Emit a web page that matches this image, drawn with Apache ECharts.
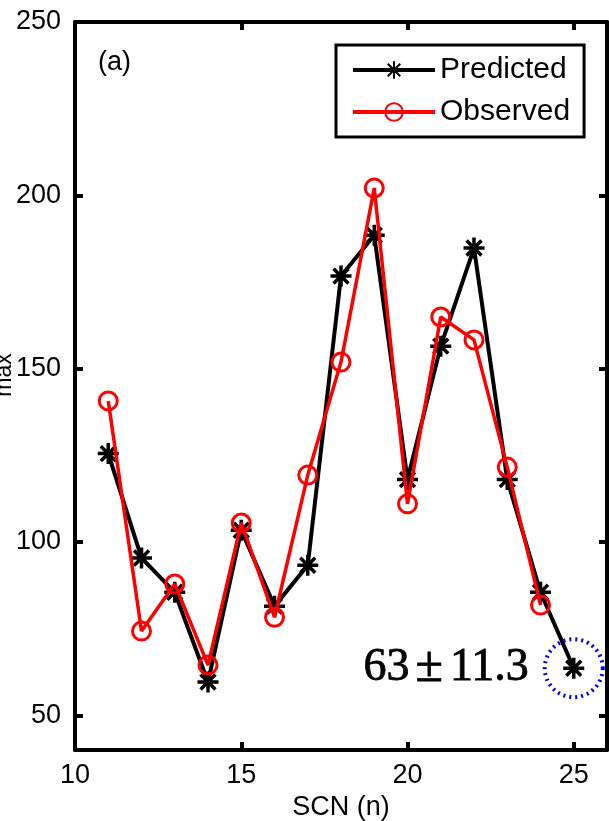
<!DOCTYPE html>
<html>
<head>
<meta charset="utf-8">
<script src="https://cdn.jsdelivr.net/npm/echarts@6/dist/echarts.min.js"></script>
<style>html,body{margin:0;padding:0;background:#fff}#c{width:609px;height:821px}</style>
</head>
<body>
<div id="c"></div>
<script>
var scn = [11,12,13,14,15,16,17,18,19,20,21,22,23,24,25];
var predicted = [125.5,95.4,85.5,59.6,103.4,81.5,93.3,176.7,188.5,118,156.5,184.8,118,85.5,63.6];
var observed = [140.7,74.3,87.9,64.5,105.5,78.3,119.3,151.9,202.1,111,164.9,158.3,121.6,81.8];
var xTicks = [10,15,20,25];
var yTicks = [50,100,150,200,250];
var highlight = {x:25, y:63.6, mean:'63', pm:'\u00b1', sd:'11.3'};

var star = 'path://M0,-10L0,10M-10,0L10,0M-7.1,-7.1L7.1,7.1M-7.1,7.1L7.1,-7.1';
var font = 'Liberation Sans';

function pairs(xs, ys){ return ys.map(function(v,i){return [xs[i], v];}); }

function tick(vals){ return {show:true, inside:true, length:8, customValues:vals, lineStyle:{color:'#000', width:4}}; }
var axisLine = {show:true, onZero:false, lineStyle:{color:'#000', width:4}};

var chart = echarts.init(document.getElementById('c'), null, {renderer:'canvas'});
chart.setOption({
  animation:false,
  backgroundColor:'#fff',
  grid:{left:75, right:2, top:22, bottom:71, containLabel:false, outerBoundsMode:'none'},
  xAxis:[
    {type:'value', min:10, max:26, position:'bottom',
      name:'SCN (n)', nameLocation:'middle', nameGap:43,
      nameTextStyle:{fontFamily:font, fontSize:27, color:'#000'},
      axisLabel:{customValues:xTicks, fontFamily:font, fontSize:27, color:'#000', margin:12},
      axisLine:axisLine, axisTick:tick(xTicks), splitLine:{show:false}},
    {type:'value', min:10, max:26, position:'top', axisLabel:{show:false},
      axisLine:axisLine, axisTick:tick(xTicks), splitLine:{show:false}}
  ],
  yAxis:[
    {type:'value', min:40, max:250, position:'left',
      axisLabel:{customValues:yTicks, fontFamily:font, fontSize:27, color:'#000', margin:14},
      axisLine:axisLine, axisTick:tick(yTicks), splitLine:{show:false}},
    {type:'value', min:40, max:250, position:'right', axisLabel:{show:false},
      axisLine:axisLine, axisTick:tick(yTicks), splitLine:{show:false}}
  ],
  legend:{
    left:336, top:45, orient:'vertical',
    backgroundColor:'#fff', borderColor:'#000', borderWidth:3,
    padding:[10,14,10,15], itemGap:12, itemWidth:82, itemHeight:22,
    textStyle:{fontFamily:font, fontSize:30, color:'#000'},
    lineStyle:{width:4},
    data:['Predicted','Observed']
  },
  graphic:[
    {type:'text', left:98, top:49, style:{text:'(a)', font:'27px "Liberation Sans"', fill:'#000'}},
    {type:'text', x:5, y:375, rotation:Math.PI/2, style:{text:'max', font:'23px "Liberation Sans"', fill:'#000', align:'center', verticalAlign:'middle'}}
  ],
  series:[
    {name:'Predicted', type:'line', data:pairs(scn, predicted),
      symbol:star, symbolSize:21, showAllSymbol:true,
      lineStyle:{color:'#000', width:4},
      itemStyle:{color:'#000', borderColor:'#000', borderWidth:3.5}, z:2},
    {name:'Observed', type:'line', data:pairs(scn, observed),
      symbol:'circle', symbolSize:18, showAllSymbol:true,
      lineStyle:{color:'#ff0000', width:3.5},
      itemStyle:{color:'rgba(255,255,255,0)', borderColor:'#ff0000', borderWidth:3}, z:3},
    {name:'highlight', type:'scatter', data:[[highlight.x, highlight.y]],
      symbol:'circle', symbolSize:58, silent:true,
      itemStyle:{color:'rgba(0,0,0,0)', borderColor:'#0000ee', borderWidth:4, borderType:[2,4], opacity:1},
      label:{show:true, position:'left', distance:14, color:'#000', opacity:1,
        textBorderWidth:0,
        formatter:'{a|' + highlight.mean + '}{b|' + highlight.pm + '}{a|' + highlight.sd + '}',
        rich:{
          a:{fontFamily:'Liberation Serif', fontSize:46, color:'#000', textBorderColor:'#000', textBorderWidth:0.8},
          b:{fontFamily:'Liberation Serif', fontSize:50, color:'#000', textBorderColor:'#000', textBorderWidth:0.8, padding:[0,7,0,6]}
        }}, z:4}
  ]
});
</script>
</body>
</html>
